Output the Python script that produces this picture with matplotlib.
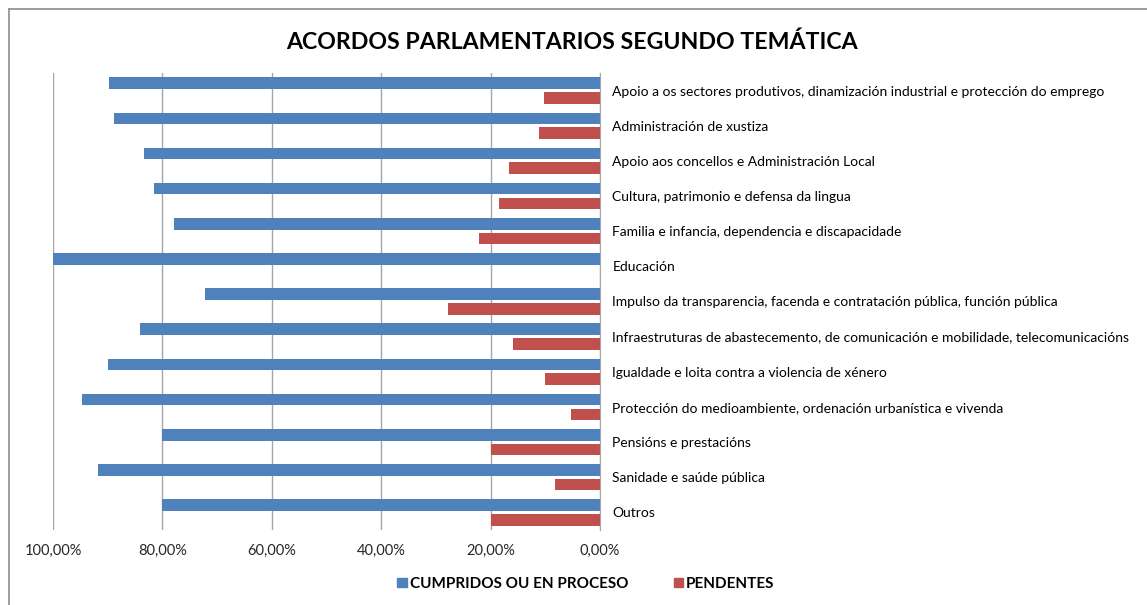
import matplotlib.pyplot as plt
from matplotlib.ticker import FuncFormatter
from matplotlib.lines import Line2D
from matplotlib.patches import Patch
import numpy as np

plt.rcParams['font.family'] = ['Lato', 'DejaVu Sans']

categories = [
    "Apoio a os sectores produtivos, dinamización industrial e protección do emprego",
    "Administración de xustiza",
    "Apoio aos concellos e Administración Local",
    "Cultura, patrimonio e defensa da lingua",
    "Familia e infancia, dependencia e discapacidade",
    "Educación",
    "Impulso da transparencia, facenda e contratación pública, función pública",
    "Infraestruturas de abastecemento, de comunicación e mobilidade, telecomunicacións",
    "Igualdade e loita contra a violencia de xénero",
    "Protección do medioambiente, ordenación urbanística e vivenda",
    "Pensións e prestacións",
    "Sanidade e saúde pública",
    "Outros",
]
cumpridos = [89.7, 88.9, 83.3, 81.5, 77.8, 100.0, 72.2, 84.1, 90.0, 94.7, 80.0, 91.7, 80.0]
pendentes = [10.3, 11.1, 16.7, 18.5, 22.2, 0.0, 27.8, 15.9, 10.0, 5.3, 20.0, 8.3, 20.0]
series_names = ["CUMPRIDOS OU EN PROCESO", "PENDENTES"]

blue = '#4F81BD'
red = '#C0504D'

fig = plt.figure(figsize=(11.47, 6.05), dpi=100)
ax = fig.add_axes([53 / 1147, 1 - 530 / 605, 547 / 1147, 457 / 605])

y = np.arange(len(categories))
h = 0.33
ax.barh(y - 0.21, cumpridos, height=h, color=blue, zorder=3)
ax.barh(y + 0.21, pendentes, height=h, color=red, zorder=3)

ax.set_xlim(100, 0)
ax.set_ylim(len(categories) - 0.5, -0.5)
ax.set_xticks([100, 80, 60, 40, 20, 0])
ax.xaxis.set_major_formatter(FuncFormatter(lambda v, p: f"{v:.2f}%".replace('.', ',')))
ax.set_yticks(y)
ax.set_yticklabels(categories)
ax.yaxis.tick_right()
ax.tick_params(axis='y', length=0, pad=9, labelsize=10)
ax.tick_params(axis='x', length=0, pad=10, labelsize=10.5, labelcolor='#262626')

ax.grid(axis='x', color='#A6A6A6', linewidth=1, zorder=0)
for s in ['top', 'bottom', 'left']:
    ax.spines[s].set_visible(False)
ax.spines['right'].set_color('#A6A6A6')

fig.text(572 / 1147, 1 - 42 / 605, "ACORDOS PARLAMENTARIOS SEGUNDO TEMÁTICA",
         ha='center', va='center', fontsize=16.7, fontweight='bold')

handles = [Patch(color=blue), Patch(color=red)]
fig.legend(handles, series_names, loc='center', bbox_to_anchor=(586 / 1147, 1 - 584 / 605),
           ncol=2, frameon=False, prop={'weight': 'bold', 'size': 11},
           handlelength=0.6, handleheight=0.6, handletextpad=0.2, columnspacing=3)

# chart frame (top and left edges)
fig.add_artist(Line2D([9 / 1147, 1], [1 - 9 / 605] * 2, color='#8C8C8C', linewidth=1.2))
fig.add_artist(Line2D([9 / 1147] * 2, [0, 1 - 9 / 605], color='#8C8C8C', linewidth=1.2))

fig.savefig('out.png', dpi=100)
